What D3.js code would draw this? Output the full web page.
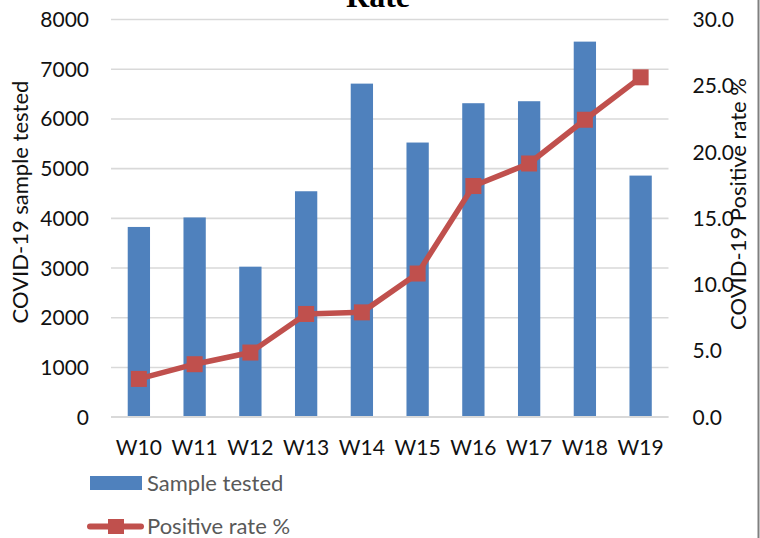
<!DOCTYPE html>
<html>
<head>
<meta charset="utf-8">
<script src="https://cdn.jsdelivr.net/npm/d3@7/dist/d3.min.js"></script>
<style>
	body { margin: 0; background: #fff; }
	svg { display: block; }
</style>
</head>
<body>
<svg id="chart" width="760" height="538"></svg>
<script>
// week labels and the two series
const weeks = ['W10', 'W11', 'W12', 'W13', 'W14', 'W15', 'W16', 'W17', 'W18', 'W19'];
const samplesTested = [3817, 4008, 3018, 4535, 6700, 5515, 6306, 6346, 7545, 4850];
const positiveRate = [2.85, 3.96, 4.84, 7.75, 7.87, 10.8, 17.4, 19.1, 22.4, 25.6];
const leftTicks = [0, 1000, 2000, 3000, 4000, 5000, 6000, 7000, 8000];
const rightTicks = [0, 5, 10, 15, 20, 25, 30];

const width = 760;
const height = 538;
const plot = { left: 111, right: 668.5, top: 19, bottom: 416.7 };

const barColour = '#4f81bd';
const lineColour = '#c0504d';
const font = 'Lato, "Open Sans", sans-serif';

const svg = d3.select('#chart');

const x = d3.scaleBand()
	.domain(weeks)
	.range([plot.left, plot.right])
	.padding(0);

const yLeft = d3.scaleLinear()
	.domain([0, 8000])
	.range([plot.bottom, plot.top]);

const yRight = d3.scaleLinear()
	.domain([0, 30])
	.range([plot.bottom, plot.top]);

// gridlines
svg.append('g')
	.attr('transform', `translate(${plot.left},0)`)
	.call(d3.axisLeft(yLeft).tickValues(leftTicks).tickSize(-(plot.right - plot.left)).tickFormat(''))
	.call(g => g.select('.domain').remove())
	.call(g => g.selectAll('.tick line').attr('stroke', '#d9d9d9').attr('stroke-width', 1.6));

// left axis labels
svg.append('g')
	.attr('transform', `translate(${plot.left},0)`)
	.call(d3.axisLeft(yLeft).tickValues(leftTicks).tickSize(0).tickPadding(22).tickFormat(d3.format('d')))
	.call(g => g.select('.domain').remove())
	.call(g => g.selectAll('text')
		.attr('fill', '#111')
		.style('font-family', font)
		.style('font-size', '21px')
		.attr('dy', '0.36em'));

// right axis labels
svg.append('g')
	.attr('transform', `translate(${plot.right},0)`)
	.call(d3.axisRight(yRight).tickValues(rightTicks).tickSize(0).tickPadding(24).tickFormat(d3.format('.1f')))
	.call(g => g.select('.domain').remove())
	.call(g => g.selectAll('text')
		.attr('fill', '#111')
		.style('font-family', font)
		.style('font-size', '21px')
		.attr('dy', '0.36em'));

// bottom axis
svg.append('g')
	.attr('transform', `translate(0,${plot.bottom})`)
	.call(d3.axisBottom(x).tickSize(0).tickPadding(23))
	.call(g => g.select('.domain').remove())
	.call(g => g.selectAll('text')
		.attr('fill', '#111')
		.style('font-family', font)
		.style('font-size', '21px'));

// bars
const barWidth = x.bandwidth() / 2.5;
svg.append('g')
	.selectAll('rect')
	.data(weeks)
	.enter().append('rect')
	.attr('x', (d) => x(d) + (x.bandwidth() - barWidth) / 2)
	.attr('y', (d, i) => yLeft(samplesTested[i]))
	.attr('width', barWidth)
	.attr('height', (d, i) => plot.bottom - yLeft(samplesTested[i]))
	.attr('fill', barColour);

// the 0 baseline sits on top of bars
svg.append('line')
	.attr('x1', plot.left)
	.attr('x2', plot.right)
	.attr('y1', yLeft(0))
	.attr('y2', yLeft(0))
	.attr('stroke', '#d9d9d9')
	.attr('stroke-width', 1.6);

// positive rate line
const line = d3.line()
	.x((d, i) => x(weeks[i]) + x.bandwidth() / 2)
	.y((d) => yRight(d));

svg.append('path')
	.datum(positiveRate)
	.attr('d', line)
	.attr('fill', 'none')
	.attr('stroke', lineColour)
	.attr('stroke-width', 5.5)
	.attr('stroke-linejoin', 'round');

const markerSize = 16;
svg.append('g')
	.selectAll('rect')
	.data(positiveRate)
	.enter().append('rect')
	.attr('x', (d, i) => x(weeks[i]) + x.bandwidth() / 2 - markerSize / 2)
	.attr('y', (d) => yRight(d) - markerSize / 2)
	.attr('width', markerSize)
	.attr('height', markerSize)
	.attr('fill', lineColour);

// title (cut off at the top in the original)
svg.append('text')
	.attr('x', 378)
	.attr('y', 7)
	.attr('text-anchor', 'middle')
	.attr('fill', '#000')
	.style('font-family', '"Liberation Serif", "Times New Roman", serif')
	.style('font-weight', 'bold')
	.style('font-size', '32px')
	.text('Rate');

// axis titles
svg.append('text')
	.attr('transform', 'translate(28,202) rotate(-90)')
	.attr('text-anchor', 'middle')
	.attr('fill', '#111')
	.style('font-family', font)
	.style('font-size', '22px')
	.text('COVID-19 sample tested');

svg.append('text')
	.attr('transform', 'translate(746,204) rotate(-90)')
	.attr('text-anchor', 'middle')
	.attr('fill', '#111')
	.style('font-family', font)
	.style('font-size', '22px')
	.text('COVID-19 Positive rate %');

// legend
const legend = svg.append('g').style('font-family', font).style('font-size', '22px');

legend.append('rect')
	.attr('x', 90)
	.attr('y', 476)
	.attr('width', 52)
	.attr('height', 14)
	.attr('fill', barColour);

legend.append('text')
	.attr('x', 147)
	.attr('y', 483)
	.attr('dy', '0.36em')
	.attr('fill', '#595959')
	.text('Sample tested');

legend.append('line')
	.attr('x1', 90)
	.attr('x2', 141)
	.attr('y1', 526.5)
	.attr('y2', 526.5)
	.attr('stroke', lineColour)
	.attr('stroke-width', 6)
	.attr('stroke-linecap', 'round');

legend.append('rect')
	.attr('x', 108)
	.attr('y', 519)
	.attr('width', 16)
	.attr('height', 15)
	.attr('fill', lineColour);

legend.append('text')
	.attr('x', 147)
	.attr('y', 526.5)
	.attr('dy', '0.36em')
	.attr('fill', '#595959')
	.text('Positive rate %');

// right edge border
svg.append('line')
	.attr('x1', width - 1.5)
	.attr('x2', width - 1.5)
	.attr('y1', 0)
	.attr('y2', height)
	.attr('stroke', '#808080')
	.attr('stroke-width', 2);
</script>
</body>
</html>
